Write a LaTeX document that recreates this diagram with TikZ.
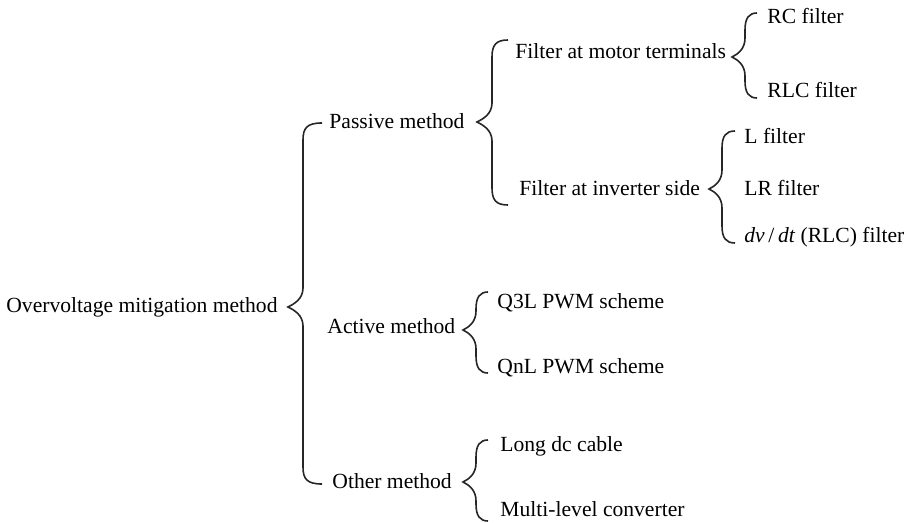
\documentclass[tikz,border=0pt]{standalone}
\usepackage{fontspec}
\setmainfont{Liberation Serif}
\usetikzlibrary{positioning}

% left curly brace: end x, line x, tip x, top y, bottom y, tip y
\newcommand{\brc}[6]{%
  \draw[brcline] (#1,#4) .. controls (#2+4,#4) and (#2,#4+5) .. (#2,#4+17)
    -- (#2,#6-19) .. controls (#2,#6-8) and (#3+6,#6-3) .. (#3,#6)
    .. controls (#3+6,#6+3) and (#2,#6+8) .. (#2,#6+19)
    -- (#2,#5-17) .. controls (#2,#5-5) and (#2+4,#5) .. (#1,#5);}

\begin{document}
\begin{tikzpicture}[
  x=0.5pt, y=-0.5pt,
  lbl/.style={font=\fontsize{10.8}{13}\selectfont, inner sep=0pt, anchor=base west},
  brcline/.style={line width=0.8pt, draw=black!85}
]
\useasboundingbox (0,0) rectangle (909,523);

\node[lbl] (main) at (6,313) {Overvoltage mitigation method};

\node[lbl] (passive) at (329,129) {Passive method};
\node[lbl] (active) at (327,334) {Active method};
\node[lbl] (other) at (332,488) {Other method};

\node[lbl] (motor) at (515,59) {Filter at motor terminals};
\node[lbl] (inverter) at (519,196) {Filter at inverter side};

\node[lbl] (rc) at (767,24) {RC filter};
\node[lbl] (rlc) at (767,98) {RLC filter};
\node[lbl] (lfil) at (744,144) {L filter};
\node[lbl] (lrfil) at (744,196) {LR filter};
\node[lbl] (dvdt) at (744,243) {\textit{dv}\,/\,\textit{dt} (RLC) filter};

\node[lbl] (qthree) at (497,308) {Q3L PWM scheme};
\node[lbl] (qn) at (497,373) {QnL PWM scheme};

\node[lbl] (longdc) at (500,451) {Long dc cable};
\node[lbl] (multi) at (500,516) {Multi-level converter};

% braces
\brc{322}{303}{288}{123}{484}{307}
\brc{508}{492}{477}{40}{205}{122}
\brc{757}{745}{732}{13}{98}{57}
\brc{735}{722}{709}{131}{243}{189}
\brc{488}{476}{463}{292}{373}{330}
\brc{488}{476}{463}{440}{521}{482}
\end{tikzpicture}
\end{document}
